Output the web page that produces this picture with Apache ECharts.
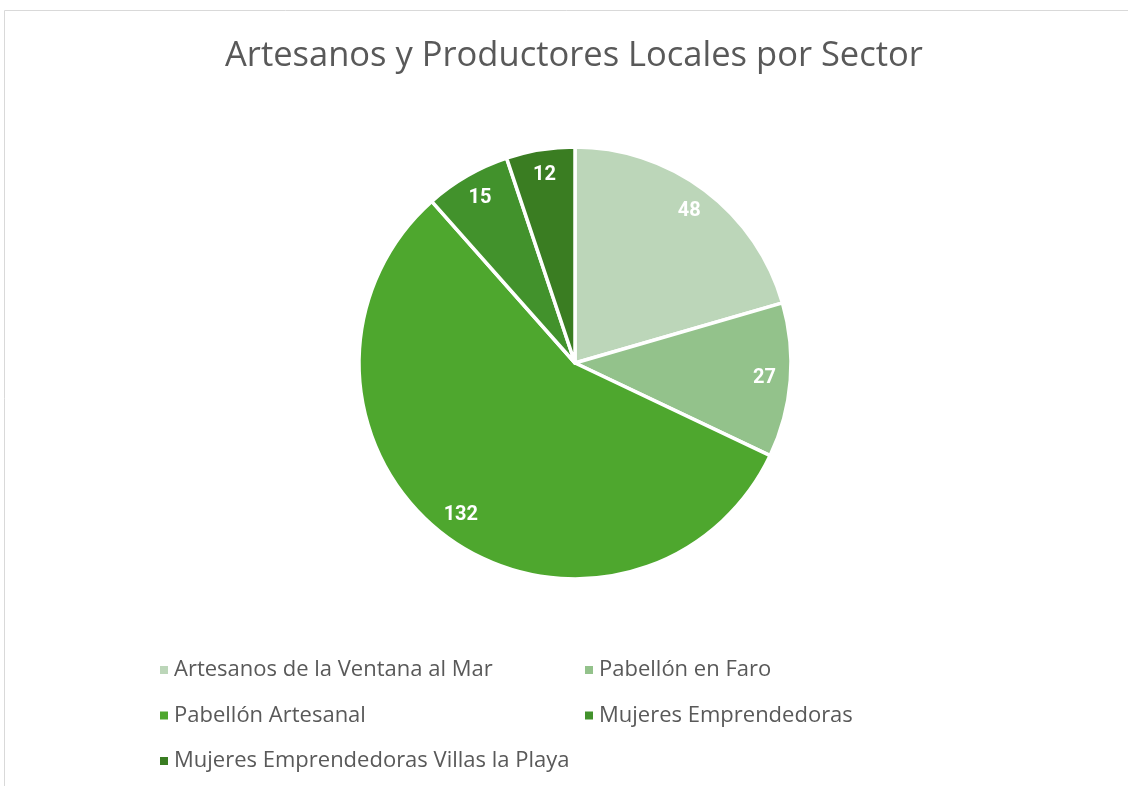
<!DOCTYPE html>
<html>
<head>
<meta charset="utf-8">
<script src="https://cdn.jsdelivr.net/npm/echarts@6/dist/echarts.min.js"></script>
<style>
    html, body { margin: 0; padding: 0; background: #fff; }
    #chart { width: 1128px; height: 786px; }
</style>
</head>
<body>
<div id="chart"></div>
<script>
    const sectores = [
        'Artesanos de la Ventana al Mar',
        'Pabellón en Faro',
        'Pabellón Artesanal',
        'Mujeres Emprendedoras',
        'Mujeres Emprendedoras Villas la Playa'
    ];
    const cantidades = [48, 27, 132, 15, 12];
    const colores = ['#bcd6b9', '#93c28b', '#4ea72e', '#42922c', '#3a7d22'];

    const chart = echarts.init(document.getElementById('chart'));

    const pieData = sectores.map((name, i) => ({ name: name, value: cantidades[i] }));
    const textFont = '"Open Sans", Roboto, sans-serif';

    const option = {
        color: colores,
        animation: false,
        title: {
            text: 'Artesanos y Productores Locales por Sector',
            left: 220,
            top: 34,
            textStyle: {
                fontFamily: textFont,
                fontSize: 34.5,
                fontWeight: 'normal',
                color: '#595959'
            }
        },
        legend: [
            {
                data: [sectores[0], sectores[2], sectores[4]],
                orient: 'vertical',
                left: 153,
                top: 654,
                itemWidth: 10,
                itemHeight: 10,
                itemGap: 23.5,
                icon: 'rect',
                textStyle: { fontFamily: textFont, fontSize: 22, color: '#595959' }
            },
            {
                data: [sectores[1], sectores[3]],
                orient: 'vertical',
                left: 578,
                top: 654,
                itemWidth: 10,
                itemHeight: 10,
                itemGap: 23.5,
                icon: 'rect',
                textStyle: { fontFamily: textFont, fontSize: 22, color: '#595959' }
            }
        ],
        graphic: [
            {
                type: 'polyline',
                shape: { points: [[4.5, 786], [4.5, 10.5], [1128, 10.5]] },
                style: { stroke: '#d9d9d9', fill: null, lineWidth: 1 },
                silent: true
            }
        ],
        series: [
            {
                name: 'Sector',
                type: 'pie',
                center: [575, 363],
                radius: [0, 216],
                startAngle: 90,
                clockwise: true,
                label: { show: false },
                labelLine: { show: false },
                itemStyle: { borderColor: '#ffffff', borderWidth: 3.5 },
                emphasis: { disabled: true },
                data: pieData
            },
            {
                // capa de etiquetas cerca del borde exterior
                name: 'Etiquetas',
                type: 'pie',
                center: [575, 363],
                radius: [160, 214],
                startAngle: 90,
                clockwise: true,
                silent: true,
                legendHoverLink: false,
                itemStyle: { color: 'transparent', borderWidth: 0 },
                label: {
                    show: true,
                    position: 'inside',
                    formatter: '{c}',
                    fontFamily: 'Roboto, "Liberation Sans", sans-serif',
                    fontSize: 20,
                    fontWeight: 'bold',
                    color: '#ffffff'
                },
                labelLine: { show: false },
                emphasis: { disabled: true },
                data: pieData.map(d => ({ name: d.name + ' ', value: d.value }))
            }
        ]
    };

    chart.setOption(option);
</script>
</body>
</html>
